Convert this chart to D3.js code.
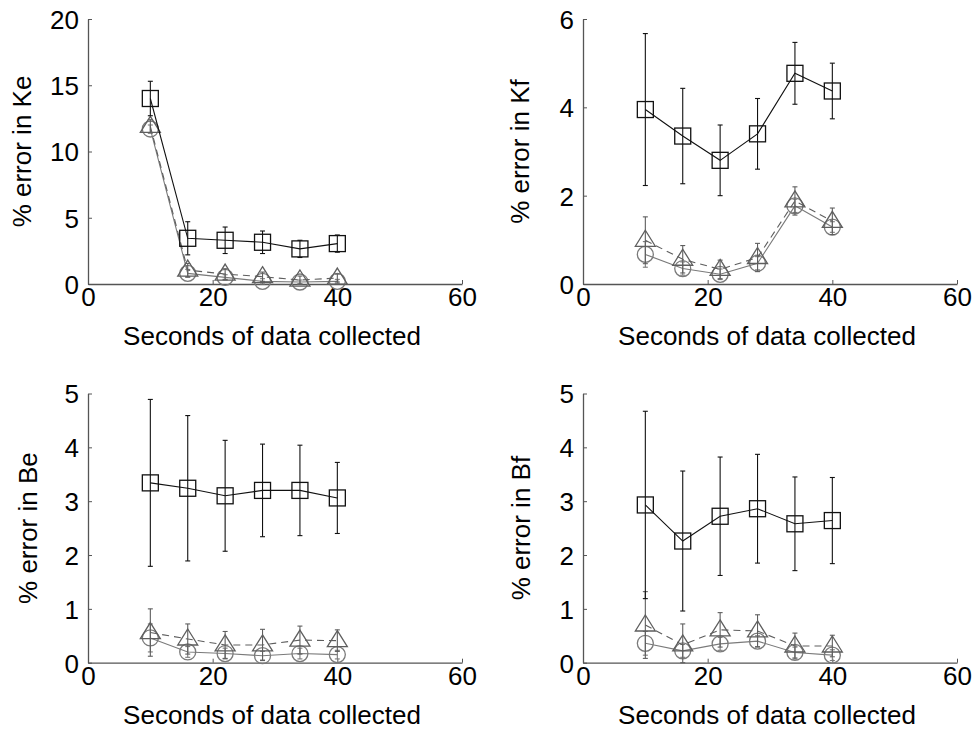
<!DOCTYPE html>
<html><head><meta charset="utf-8">
<script src="https://cdn.jsdelivr.net/npm/d3@7/dist/d3.min.js"></script>
<style>body{margin:0;background:#fff}svg{display:block}text{font-family:"Liberation Sans",Arial,sans-serif;fill:#000}</style>
</head><body>
<script>
const seconds = [10, 16, 22, 28, 34, 40];
const xTicks = [0, 20, 40, 60];

// Ke
const keSquare = [14.0, 3.45, 3.3, 3.15, 2.65, 3.05];
const keSquareErr = [1.3, 1.25, 1.0, 0.85, 0.65, 0.65];
const keTriangle = [11.9, 1.05, 0.75, 0.55, 0.3, 0.45];
const keTriangleErr = [0.5, 0.5, 0.4, 0.35, 0.3, 0.3];
const keCircle = [11.7, 0.8, 0.5, 0.2, 0.15, 0.2];
const keCircleErr = [0.3, 0.3, 0.2, 0.2, 0.15, 0.15];
// Kf
const kfSquare = [3.95, 3.35, 2.8, 3.4, 4.77, 4.37];
const kfSquareErr = [1.72, 1.08, 0.8, 0.8, 0.7, 0.63];
const kfTriangle = [0.99, 0.56, 0.33, 0.6, 1.88, 1.42];
const kfTriangleErr = [0.53, 0.31, 0.21, 0.32, 0.32, 0.3];
const kfCircle = [0.67, 0.35, 0.22, 0.47, 1.77, 1.29];
const kfCircleErr = [0.29, 0.15, 0.12, 0.15, 0.15, 0.12];
// Be
const beSquare = [3.34, 3.24, 3.1, 3.2, 3.2, 3.06];
const beSquareErr = [1.55, 1.35, 1.03, 0.86, 0.84, 0.66];
const beTriangle = [0.56, 0.44, 0.33, 0.33, 0.42, 0.41];
const beTriangleErr = [0.44, 0.28, 0.25, 0.29, 0.26, 0.2];
const beCircle = [0.46, 0.2, 0.17, 0.13, 0.17, 0.15];
const beCircleErr = [0.26, 0.1, 0.1, 0.08, 0.1, 0.08];
// Bf
const bfSquare = [2.93, 2.26, 2.72, 2.86, 2.58, 2.64];
const bfSquareErr = [1.74, 1.3, 1.1, 1.01, 0.87, 0.8];
const bfTriangle = [0.7, 0.33, 0.61, 0.59, 0.31, 0.31];
const bfTriangleErr = [0.62, 0.39, 0.32, 0.3, 0.24, 0.2];
const bfCircle = [0.36, 0.22, 0.35, 0.4, 0.19, 0.14];
const bfCircleErr = [0.22, 0.12, 0.12, 0.1, 0.1, 0.1];

const keTicks = [0, 5, 10, 15, 20];
const kfTicks = [0, 2, 4, 6];
const bTicks = [0, 1, 2, 3, 4, 5];

const panels = [
  {label: "% error in Ke", ymax: 20, yticks: keTicks, sq: keSquare, sqE: keSquareErr, tr: keTriangle, trE: keTriangleErr, ci: keCircle, ciE: keCircleErr, left: 88, right: 462, top: 19, bottom: 284, labelX: 31},
  {label: "% error in Kf", ymax: 6, yticks: kfTicks, sq: kfSquare, sqE: kfSquareErr, tr: kfTriangle, trE: kfTriangleErr, ci: kfCircle, ciE: kfCircleErr, left: 583, right: 957, top: 19, bottom: 284, labelX: 529},
  {label: "% error in Be", ymax: 5, yticks: bTicks, sq: beSquare, sqE: beSquareErr, tr: beTriangle, trE: beTriangleErr, ci: beCircle, ciE: beCircleErr, left: 88, right: 462, top: 393.5, bottom: 662.7, labelX: 37},
  {label: "% error in Bf", ymax: 5, yticks: bTicks, sq: bfSquare, sqE: bfSquareErr, tr: bfTriangle, trE: bfTriangleErr, ci: bfCircle, ciE: bfCircleErr, left: 583, right: 957, top: 393.5, bottom: 662.7, labelX: 530}
];

const FS = 26;
const svg = d3.select("body").append("svg").attr("width", 974).attr("height", 731);
const axisColor = "#555";
const triColor = "#5e5e5e";
const cirColor = "#7a7a7a";

panels.forEach(p => {
  const x = d3.scaleLinear().domain([0, 60]).range([p.left, p.right]);
  const y = d3.scaleLinear().domain([0, p.ymax]).range([p.bottom, p.top]);
  const g = svg.append("g");

  const xa = g.append("g").attr("transform", `translate(0,${p.bottom})`)
    .call(d3.axisBottom(x).tickValues(xTicks).tickFormat(d3.format("d")).tickSizeInner(-4).tickSizeOuter(0).tickPadding(5));
  const ya = g.append("g").attr("transform", `translate(${p.left},0)`)
    .call(d3.axisLeft(y).tickValues(p.yticks).tickFormat(d3.format("d")).tickSizeInner(-4).tickSizeOuter(0).tickPadding(9));
  [xa, ya].forEach(a => {
    a.attr("font-size", FS).attr("font-family", "Liberation Sans, Arial, sans-serif");
    a.select(".domain").attr("stroke", axisColor).attr("stroke-width", 1.3);
    a.selectAll(".tick line").attr("stroke", axisColor);
    a.selectAll(".tick text").attr("font-size", FS).attr("fill", "#000");
  });
  xa.selectAll(".tick text").attr("y", 22).attr("dy", 0);
  ya.selectAll(".tick text").attr("dy", "0.36em");

  g.append("text").attr("x", (p.left + p.right) / 2 - 3).attr("y", p.bottom + 61)
    .attr("text-anchor", "middle").attr("font-size", FS).text("Seconds of data collected");
  g.append("text").attr("transform", `translate(${p.labelX},${(p.top + p.bottom) / 2}) rotate(-90)`)
    .attr("text-anchor", "middle").attr("font-size", FS).text(p.label);

  const series = [
    {v: p.ci, e: p.ciE, color: cirColor, dash: null, shape: "circle"},
    {v: p.tr, e: p.trE, color: triColor, dash: "7,5", shape: "triangle"},
    {v: p.sq, e: p.sqE, color: "#111", dash: null, shape: "square"}
  ];

  series.forEach(s => {
    const pts = seconds.map((t, i) => ({t, v: s.v[i], e: s.e[i]}));
    const eb = g.append("g").attr("stroke", s.color).attr("stroke-width", 1.1).attr("fill", "none");
    pts.forEach(d => {
      const lo = y(Math.max(0, d.v - d.e)), hi = y(d.v + d.e), cx = x(d.t);
      eb.append("line").attr("x1", cx).attr("x2", cx).attr("y1", lo).attr("y2", hi);
      eb.append("line").attr("x1", cx - 2.5).attr("x2", cx + 2.5).attr("y1", lo).attr("y2", lo);
      eb.append("line").attr("x1", cx - 2.5).attr("x2", cx + 2.5).attr("y1", hi).attr("y2", hi);
    });
    g.append("path").datum(pts)
      .attr("d", d3.line().x(d => x(d.t)).y(d => y(d.v)))
      .attr("fill", "none").attr("stroke", s.color).attr("stroke-width", 1.1)
      .attr("stroke-dasharray", s.dash);
    const mk = g.append("g").attr("stroke", s.color).attr("stroke-width", 1.3).attr("fill", "none");
    pts.forEach(d => {
      const cx = x(d.t), cy = y(d.v);
      if (s.shape === "square") {
        mk.append("rect").attr("x", cx - 8).attr("y", cy - 8).attr("width", 16).attr("height", 16);
      } else if (s.shape === "circle") {
        mk.append("circle").attr("cx", cx).attr("cy", cy).attr("r", 8);
      } else {
        mk.append("path").attr("d", `M${cx},${cy - 10}L${cx + 10},${cy + 6}L${cx - 10},${cy + 6}Z`);
      }
    });
  });
});
</script>
</body></html>
